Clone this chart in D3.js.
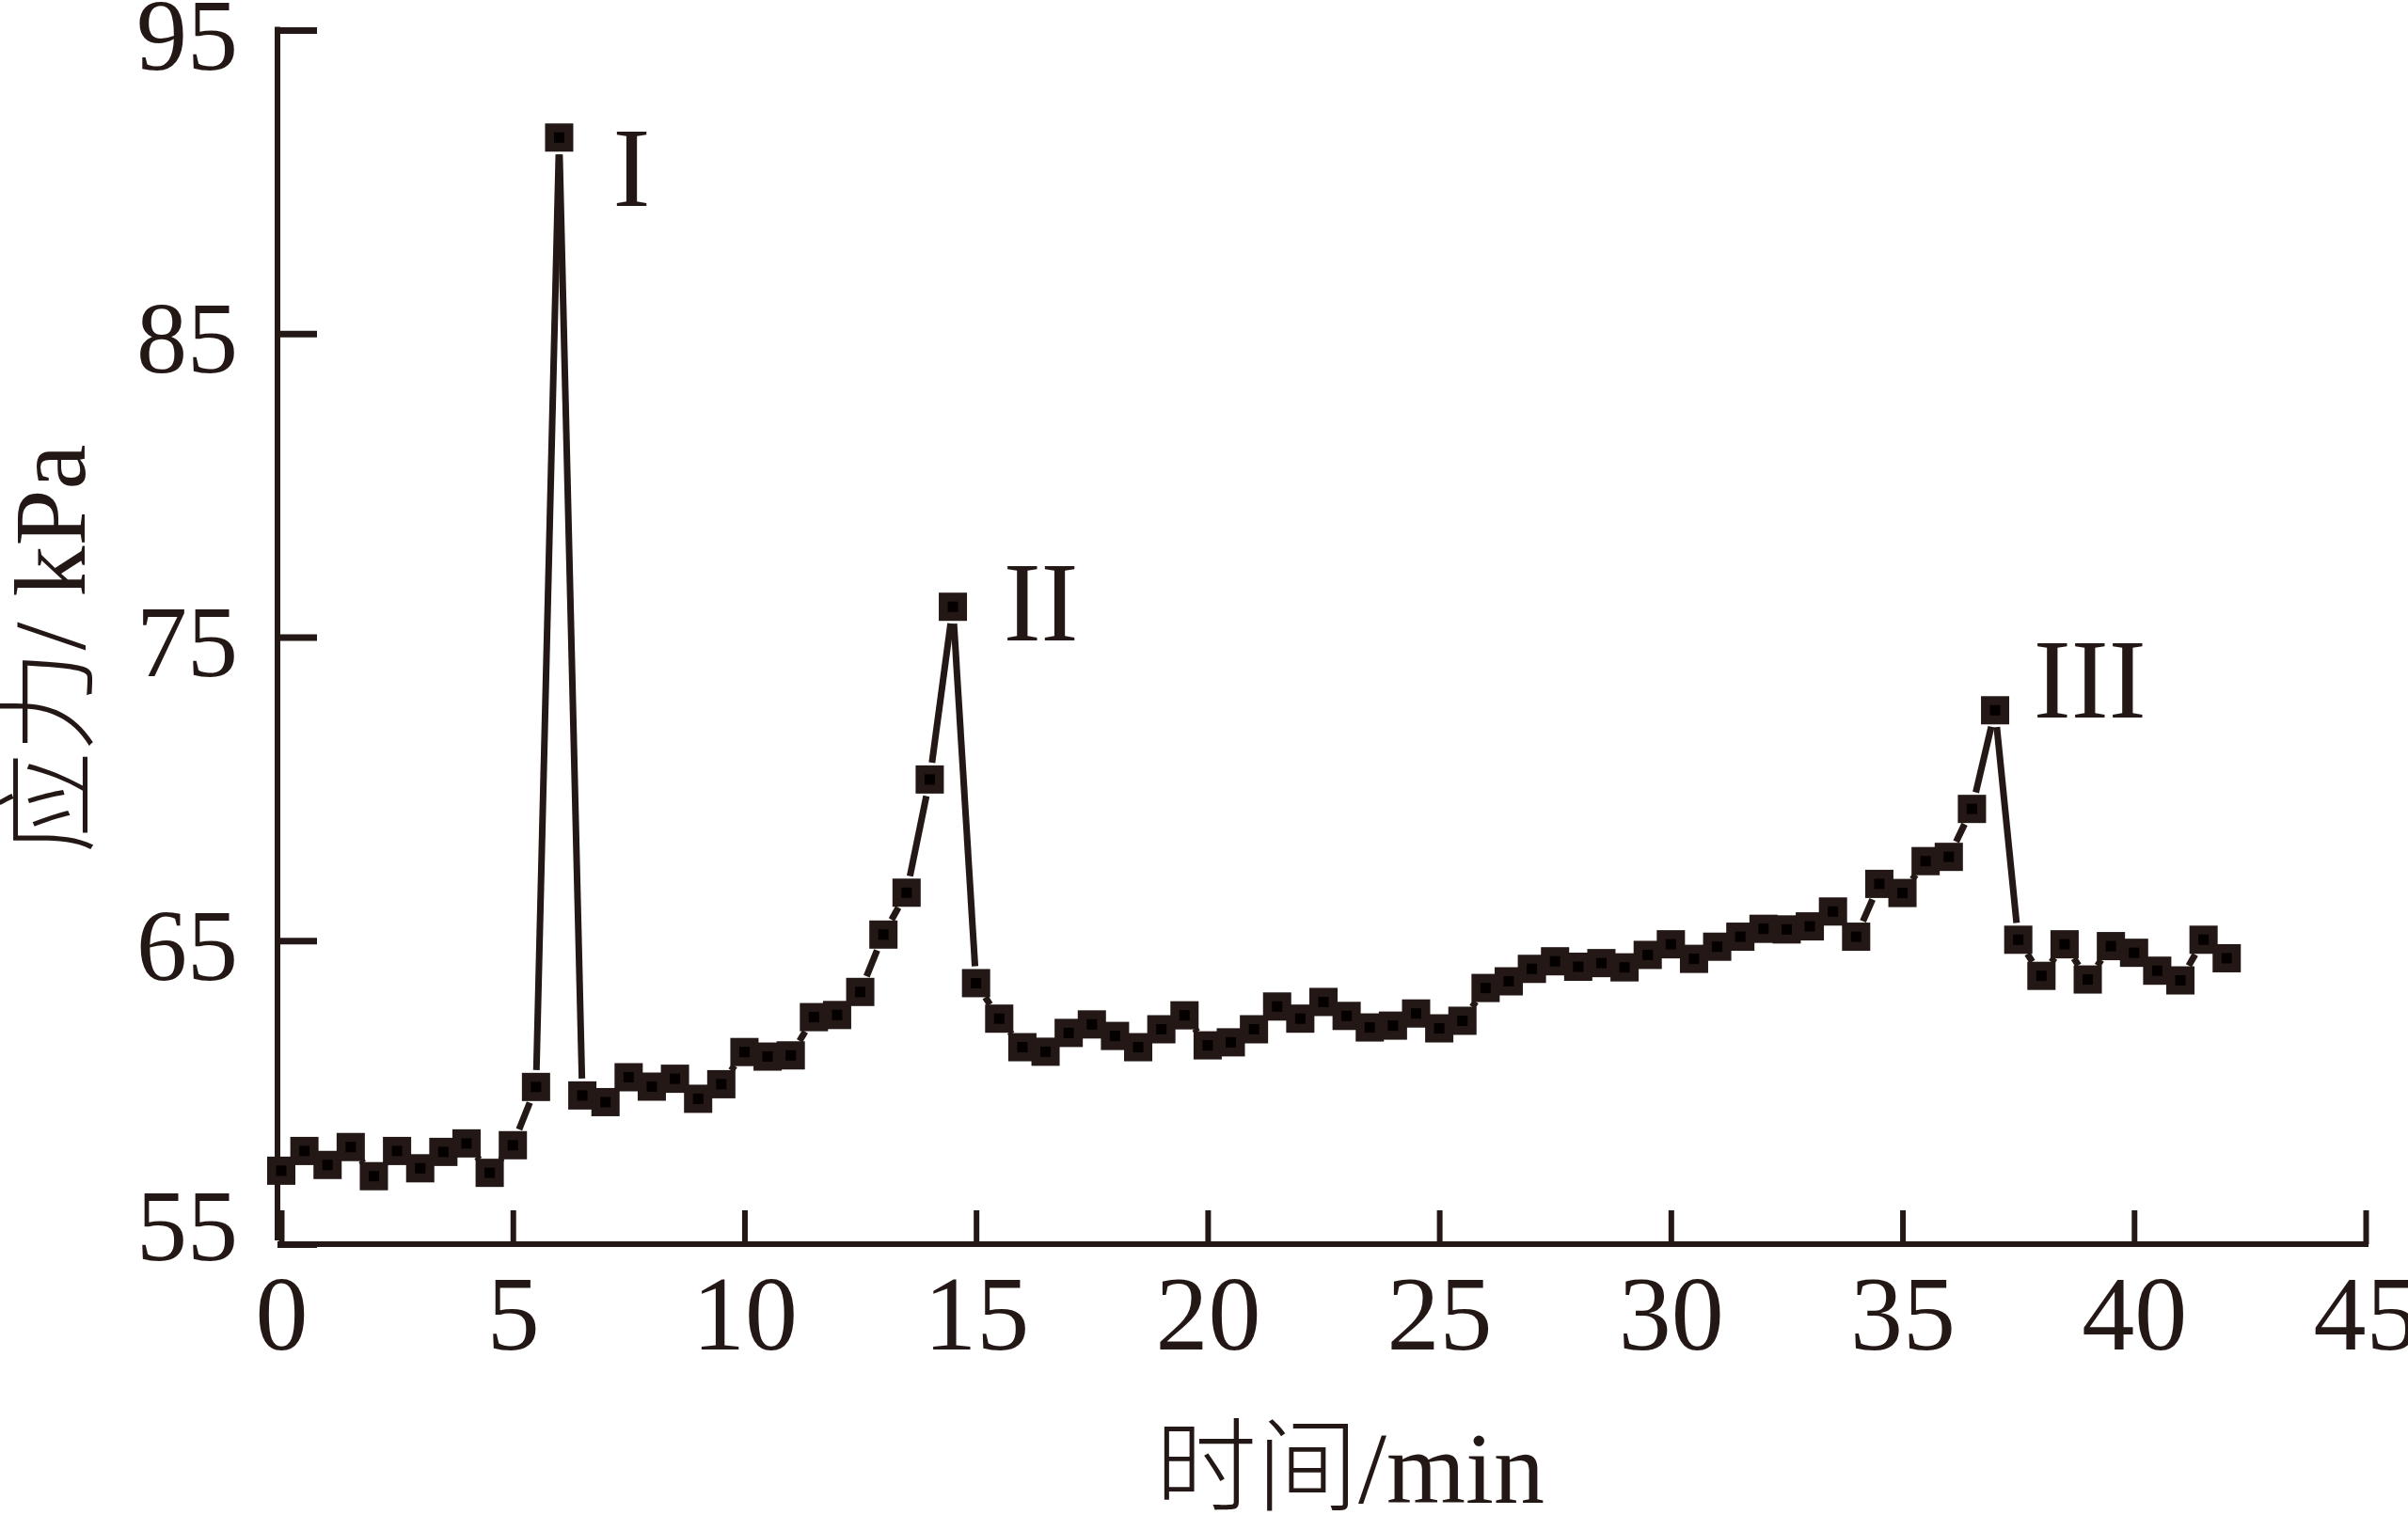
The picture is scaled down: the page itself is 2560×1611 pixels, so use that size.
<!DOCTYPE html>
<html>
<head>
<meta charset="utf-8">
<script src="https://cdn.jsdelivr.net/npm/d3@7"></script>
<style>
  html, body { margin: 0; padding: 0; background: #ffffff; }
  svg { display: block; }
</style>
</head>
<body>
<script>
// ---------- data ----------
const times = [
  0, 0.5, 1, 1.5, 2, 2.5, 3, 3.5, 4, 4.5, 5, 5.5, 6, 6.5, 7, 7.5, 8, 8.5, 9, 9.5,
  10, 10.5, 11, 11.5, 12, 12.5, 13, 13.5, 14, 14.5, 15, 15.5, 16, 16.5, 17, 17.5, 18, 18.5, 19, 19.5,
  20, 20.5, 21, 21.5, 22, 22.5, 23, 23.5, 24, 24.5, 25, 25.5, 26, 26.5, 27, 27.5, 28, 28.5, 29, 29.5,
  30, 30.5, 31, 31.5, 32, 32.5, 33, 33.5, 34, 34.5, 35, 35.5, 36, 36.5, 37, 37.5, 38, 38.5, 39, 39.5,
  40, 40.5, 41, 41.5, 42
];
const stress = [
  57.42, 58.07, 57.61, 58.20, 57.24, 58.07, 57.50, 58.04, 58.32, 57.35, 58.26, 60.18, 91.46, 59.90, 59.68, 60.50, 60.19, 60.45, 59.79, 60.27,
  61.33, 61.18, 61.22, 62.48, 62.55, 63.31, 65.20, 66.58, 70.31, 76.00, 63.60, 62.43, 61.49, 61.34, 61.96, 62.24, 61.86, 61.49, 62.08, 62.54,
  61.55, 61.65, 62.08, 62.83, 62.43, 62.98, 62.52, 62.14, 62.20, 62.60, 62.11, 62.36, 63.44, 63.66, 64.07, 64.32, 64.14, 64.26, 64.12, 64.53,
  64.88, 64.40, 64.80, 65.13, 65.39, 65.37, 65.47, 65.96, 65.13, 66.87, 66.57, 67.62, 67.76, 69.34, 72.59, 65.03, 63.84, 64.88, 63.72, 64.82,
  64.60, 64.01, 63.69, 65.03, 64.42
];
const xTickValues = [0, 5, 10, 15, 20, 25, 30, 35, 40, 45];
const yTickValues = [55, 65, 75, 85, 95];
const peakLabels = ["I", "II", "III"];
const peakLabelT = [7.28, 15.71, 37.95];
const peakLabelV = [89.22, 74.90, 72.36];
const xTitle = "时间/min";
const yTitle = "应力/ kPa";

// ---------- layout ----------
const W = 2560, H = 1611;
const ink = "#231815";
const serif = "'Liberation Serif', 'Times New Roman', serif";
const cjk = "'Liberation Serif', 'Noto Sans CJK SC', serif";

const x = d3.scaleLinear().domain([0, 45]).range([299, 2515]);
const y = d3.scaleLinear().domain([55, 95]).range([1323, 32]);

const svg = d3.select("body").append("svg")
  .attr("width", W).attr("height", H)
  .attr("viewBox", `0 0 ${W} ${H}`);
svg.append("rect").attr("width", W).attr("height", H).attr("fill", "#fff");

// ---------- axes ----------
const xAxis = d3.axisBottom(x)
  .tickValues(xTickValues)
  .tickFormat(d3.format("d"))
  .tickSizeInner(-36)
  .tickSizeOuter(0)
  .tickPadding(32);
const gx = svg.append("g").attr("transform", `translate(0,${y(55)})`).call(xAxis);
gx.select(".domain").remove();
gx.selectAll(".tick line").attr("stroke", ink).attr("stroke-width", 6);
gx.selectAll(".tick text")
  .attr("fill", ink)
  .style("font-family", serif)
  .style("font-size", "112px");
svg.append("line")
  .attr("x1", 296).attr("x2", x(45) + 3)
  .attr("y1", y(55)).attr("y2", y(55))
  .attr("stroke", ink).attr("stroke-width", 6);

const yAxis = d3.axisLeft(y)
  .tickValues(yTickValues)
  .tickFormat(d3.format("d"))
  .tickSizeInner(-42)
  .tickSizeOuter(0)
  .tickPadding(42);
const gy = svg.append("g").attr("transform", "translate(295,0)").call(yAxis);
gy.select(".domain").remove();
gy.selectAll(".tick line").attr("stroke", ink).attr("stroke-width", 7);
gy.selectAll(".tick text")
  .attr("fill", ink)
  .attr("dy", d => d === 55 ? "0.15em" : "0.38em")
  .style("font-family", serif)
  .style("font-size", "108px");
svg.append("line")
  .attr("x1", 295).attr("x2", 295)
  .attr("y1", y(95) - 3.5).attr("y2", y(55) - 4)
  .attr("stroke", ink).attr("stroke-width", 6);

// ---------- axis titles ----------
svg.append("text")
  .attr("x", 1435).attr("y", 1598)
  .attr("text-anchor", "middle")
  .attr("fill", ink)
  .style("font-family", cjk)
  .style("font-size", "108px")
  .style("font-weight", 300)
  .text(xTitle);

svg.append("text")
  .attr("transform", "translate(90,690) rotate(-90)")
  .attr("text-anchor", "middle")
  .attr("fill", ink)
  .style("font-family", cjk)
  .style("font-size", "108px")
  .style("font-weight", 300)
  .text(yTitle);

// ---------- line segments (with gap around symbols) ----------
const pts = times.map((t, i) => [x(t), y(stress[i])]);
const trim = 18;
const segs = [];
for (let i = 0; i < pts.length - 1; i++) {
  const [x0, y0] = pts[i], [x1, y1] = pts[i + 1];
  const dx = x1 - x0, dy = y1 - y0, d = Math.hypot(dx, dy);
  if (d > 2 * trim) {
    const ux = dx / d, uy = dy / d;
    segs.push([[x0 + ux * trim, y0 + uy * trim], [x1 - ux * trim, y1 - uy * trim]]);
  }
}
svg.append("g").selectAll("path").data(segs).join("path")
  .attr("d", s => d3.line()(s))
  .attr("stroke", ink).attr("stroke-width", 7).attr("fill", "none");

// ---------- markers ----------
const S = 30, s = 11;
const mk = svg.append("g").selectAll("g").data(times).join("g")
  .attr("transform", (t, i) => `translate(${x(t)},${y(stress[i])})`);
mk.append("rect").attr("x", -S / 2).attr("y", -S / 2).attr("width", S).attr("height", S).attr("fill", ink);
mk.append("rect").attr("x", -s / 2).attr("y", -s / 2).attr("width", s).attr("height", s).attr("fill", "#040000");

// ---------- peak labels ----------
svg.append("g").selectAll("text").data(peakLabels).join("text")
  .attr("x", (d, i) => x(peakLabelT[i]) - 6)
  .attr("y", (d, i) => y(peakLabelV[i]))
  .attr("fill", ink)
  .style("font-family", serif)
  .style("font-size", "120px")
  .text(d => d);
</script>
</body>
</html>
